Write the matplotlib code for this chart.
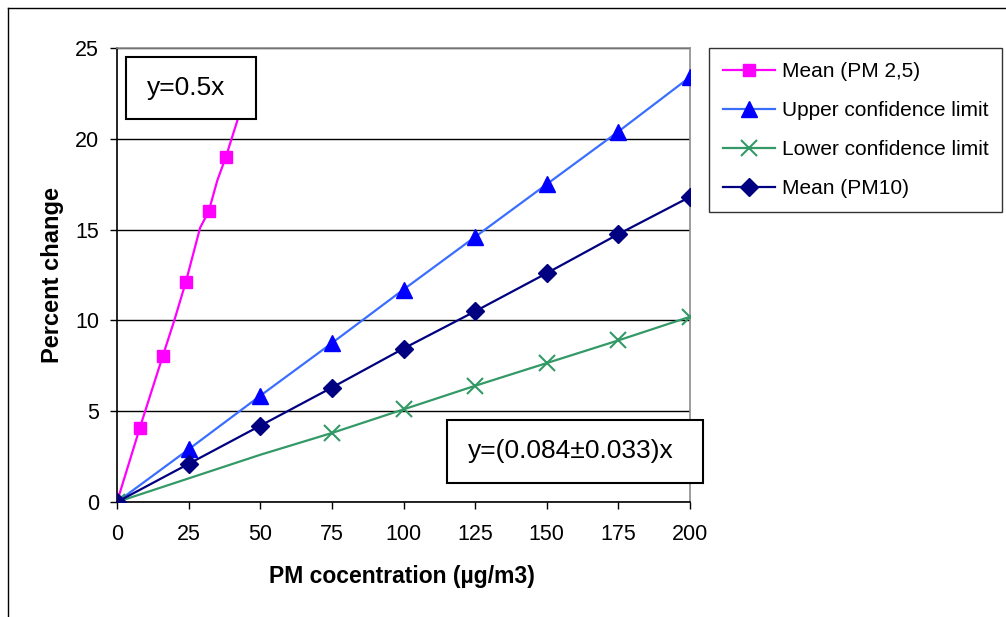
import numpy as np
import matplotlib
matplotlib.use("Agg")
import matplotlib.pyplot as plt
from matplotlib.patches import Rectangle
from matplotlib.lines import Line2D

plt.rcParams["font.family"] = ["Liberation Sans", "DejaVu Sans"]

# Data
pm25_x = [0, 8, 16, 20, 24, 29, 32, 35, 38, 41, 44]
pm25_y = [0, 4.1, 8.05, 10.0, 12.1, 15.1, 16.0, 17.7, 19.0, 20.5, 22.0]
pm25_marks = [0, 1, 2, 4, 6, 8]

conc = [0, 25, 50, 75, 100, 125, 150, 175, 200]
upper = [0, 2.9, 5.85, 8.75, 11.7, 14.6, 17.5, 20.4, 23.4]
lower = [0, 1.3, 2.6, 3.8, 5.1, 6.4, 7.65, 8.9, 10.2]
lower_marks = [0, 3, 4, 5, 6, 7, 8]
pm10 = [0, 2.1, 4.2, 6.3, 8.45, 10.5, 12.6, 14.75, 16.8]

labels = ["Mean (PM 2,5)", "Upper confidence limit",
          "Lower confidence limit", "Mean (PM10)"]
x_ticks = [0, 25, 50, 75, 100, 125, 150, 175, 200]
y_ticks = [0, 5, 10, 15, 20, 25]

fig = plt.figure(figsize=(10.06, 6.17), dpi=100)
ax = fig.add_axes([117 / 1006, 1 - 502 / 617, 573 / 1006, 454 / 617])

ax.plot(pm25_x, pm25_y, color="#FF00FF", lw=1.6, marker="s", ms=9,
        markevery=pm25_marks, label=labels[0], zorder=3)
ax.plot(conc, upper, color="#3A6EFF", lw=1.6, marker="^", ms=11,
        mfc="#0000FF", mec="#0000FF", label=labels[1], zorder=3)
ax.plot(conc, lower, color="#339966", lw=1.6, marker="x", ms=11, mew=1.5,
        markevery=lower_marks, label=labels[2], zorder=3)
ax.plot(conc, pm10, color="#000080", lw=1.6, marker="D", ms=9,
        label=labels[3], zorder=4)

ax.set_xlim(0, 200)
ax.set_ylim(0, 25)
ax.set_xticks(x_ticks)
ax.set_yticks(y_ticks)
ax.tick_params(axis="both", direction="out", length=5, width=1,
               labelsize=15.5)
ax.tick_params(axis="x", pad=11)
ax.tick_params(axis="y", pad=8)
ax.yaxis.grid(True, color="black", lw=1)
ax.set_axisbelow(True)
for s in ["top", "right"]:
    ax.spines[s].set_color("#8c8c8c")
for s in ["left", "bottom"]:
    ax.spines[s].set_color("black")
for s in ax.spines.values():
    s.set_linewidth(1.2)

ax.set_xlabel("PM cocentration (µg/m3)", fontsize=16.5, fontweight="bold")
ax.set_ylabel("Percent change", fontsize=17, fontweight="bold")
ax.xaxis.set_label_coords(0.497, -0.163)
ax.yaxis.set_label_coords(-0.113, 0.5)
ax.xaxis.label.set_va("center")
ax.yaxis.label.set_va("center")

# equation boxes
ax.add_patch(Rectangle((3.1, 21.1), 45.4, 3.4, facecolor="white",
                       edgecolor="black", lw=1.5, zorder=5, clip_on=False))
ax.text(24.0, 22.8, "y=0.5x", fontsize=19, ha="center", va="center", zorder=6)
ax.add_patch(Rectangle((115.2, 1.05), 89.3, 3.45, facecolor="white",
                       edgecolor="black", lw=1.5, zorder=5, clip_on=False))
ax.text(158.5, 2.8, "y=(0.084±0.033)x", fontsize=19, ha="center",
        va="center", zorder=6)

leg = fig.legend(loc="upper left", bbox_to_anchor=(709 / 1006, 1 - 48 / 617),
                 bbox_transform=fig.transFigure, borderaxespad=0,
                 fontsize=15, frameon=True, fancybox=False, edgecolor="black",
                 handlelength=2.5, handletextpad=0.3, labelspacing=0.96,
                 borderpad=0.68)
leg.get_frame().set_linewidth(1.0)

# outer chart border (cropped at right/bottom)
fig.add_artist(Line2D([8 / 1006, 8 / 1006], [0, 1 - 8 / 617],
                      transform=fig.transFigure, color="black", lw=1))
fig.add_artist(Line2D([8 / 1006, 1], [1 - 8 / 617, 1 - 8 / 617],
                      transform=fig.transFigure, color="black", lw=1))

fig.savefig("out.png", dpi=100)
